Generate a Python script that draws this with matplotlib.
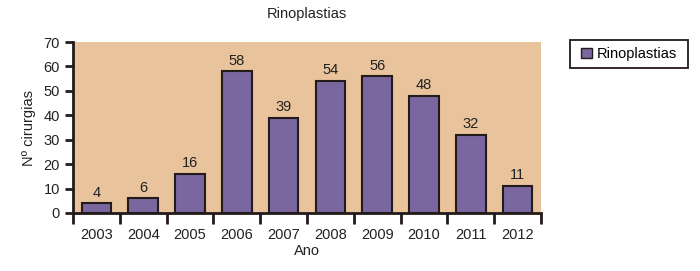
import matplotlib
matplotlib.use("Agg")
import matplotlib.pyplot as plt
import numpy as np
from matplotlib.patches import Patch, Rectangle

years = ["2003", "2004", "2005", "2006", "2007", "2008", "2009", "2010", "2011", "2012"]
values = [4, 6, 16, 58, 39, 54, 56, 48, 32, 11]
series_name = "Rinoplastias"

plt.rcParams['font.family'] = ['Liberation Sans', 'DejaVu Sans']
W, H = 700, 271
fig = plt.figure(figsize=(7, 2.71), dpi=100)
ax = fig.add_axes([73 / W, 1 - 213 / H, (541 - 73) / W, (213 - 42) / H])
ax.set_facecolor('#E8C39B')

x = np.arange(len(years))
ax.bar(x, values, width=0.63, color='#7A67A0', edgecolor='#231a1a', linewidth=1.5, zorder=3)
for xi, v in zip(x, values):
    ax.text(xi, v + 1.5, str(v), ha='center', va='bottom', fontsize=10.5, color='#222222')

ax.set_xlim(-0.5, len(years) - 0.5)
ax.set_ylim(0, 70)
ax.set_yticks(range(0, 71, 10))
ax.set_xticks(x)
ax.set_xticklabels(years, fontsize=10.5, color='#222222')
ax.set_xticks(np.arange(-0.5, len(years), 1), minor=True)
ax.tick_params(axis='x', which='major', length=0, pad=11)
ax.tick_params(axis='x', which='minor', length=8, width=2, direction='out', color='#231a1a')
ax.tick_params(axis='y', length=6, width=2, direction='out', labelsize=10.5, color='#231a1a', labelcolor='#222222')
for s in ['top', 'right']:
    ax.spines[s].set_visible(False)
for s in ['left', 'bottom']:
    ax.spines[s].set_linewidth(2)
    ax.spines[s].set_color('#231a1a')

ax.set_xlabel("Ano", fontsize=10.5, color='#222222', labelpad=1)
ax.set_ylabel("Nº cirurgias", fontsize=10.5, color='#222222', labelpad=5)
ax.set_title("Rinoplastias", fontsize=10.5, color='#222222', pad=17)

# legend frame
fig.patches.append(Rectangle((570 / W, 1 - 68 / H), 118 / W, 28 / H, transform=fig.transFigure,
                             facecolor='white', edgecolor='#231a1a', linewidth=1.3, zorder=1))
leg = fig.legend(handles=[Patch(facecolor='#7A67A0', edgecolor='#231a1a', linewidth=1, label=series_name)],
                 loc='center', bbox_to_anchor=(629 / W, 1 - 54 / H), fontsize=10.5, frameon=False,
                 handlelength=0.75, handleheight=0.75, handletextpad=0.35, borderpad=0)

fig.savefig("out.png", dpi=100)
